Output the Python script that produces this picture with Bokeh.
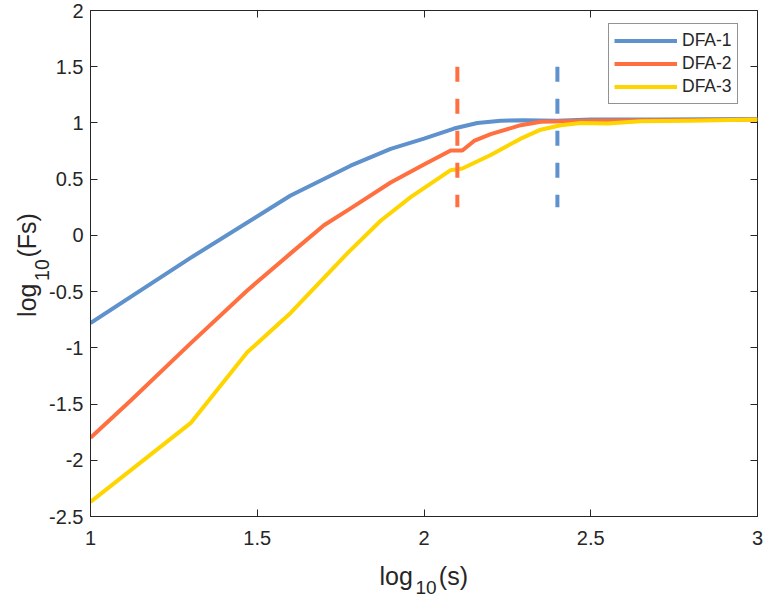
import math
from bokeh.plotting import figure
from bokeh.models import (Range1d, FixedTicker, LinearAxis, Label, Legend,
                          LegendItem, CustomJSTickFormatter)
from bokeh.embed import file_html
from bokeh.resources import INLINE

# ---- data ----
dfa1_x = [1.0, 1.3, 1.6, 1.78, 1.9, 2.0, 2.09, 2.16, 2.23, 2.3, 2.4, 2.5, 2.7, 3.0]
dfa1_y = [-0.78, -0.2, 0.355, 0.62, 0.77, 0.86, 0.95, 1.0, 1.02, 1.025, 1.02, 1.03, 1.03, 1.035]

dfa2_x = [1.0, 1.12, 1.3, 1.47, 1.6, 1.7, 1.78, 1.9, 2.0, 2.08, 2.115, 2.15, 2.2, 2.29, 2.35, 2.5, 3.0]
dfa2_y = [-1.8, -1.47, -0.96, -0.49, -0.16, 0.09, 0.24, 0.47, 0.63, 0.755, 0.755, 0.84, 0.9, 0.98, 1.01, 1.02, 1.03]

dfa3_x = [1.0, 1.3, 1.47, 1.6, 1.77, 1.87, 1.96, 2.02, 2.08, 2.115, 2.2, 2.29, 2.35, 2.41, 2.47, 2.55, 2.65, 2.8, 3.0]
dfa3_y = [-2.37, -1.67, -1.04, -0.69, -0.16, 0.13, 0.34, 0.46, 0.58, 0.595, 0.715, 0.86, 0.94, 0.98, 1.0, 0.995, 1.015, 1.02, 1.03]

cut_x = [2.1, 2.4]
cut_y0 = [1.5, 1.5]
cut_y1 = [0.25, 0.25]

series_names = ["DFA-1", "DFA-2", "DFA-3"]
x_ticks = [1, 1.5, 2, 2.5, 3]
y_ticks = [-2.5, -2, -1.5, -1, -0.5, 0, 0.5, 1, 1.5, 2]

# ---- styles / layout ----
C_BLUE = "#5F91CC"
C_ORANGE = "#FF6F3F"
C_YELLOW = "#FFD500"
AX = "#262626"
FONT = "Liberation Sans"

LEFT = 400          # wide left panel holding the axis titles (unclipped there)
SHIFT = LEFT - 90   # pulled back so that the frame starts 90px from the page edge

p = figure(width=765 - 90 + LEFT, height=595, x_range=Range1d(1, 3), y_range=Range1d(-2.5, 2),
           output_backend="svg", toolbar_location=None,
           min_border_left=LEFT, min_border_right=8, min_border_top=10, min_border_bottom=79)
p.styles = {"margin-left": f"-{SHIFT}px"}
p.xgrid.visible = False
p.ygrid.visible = False
p.outline_line_color = AX
p.outline_line_width = 1
p.outline_line_alpha = 1
p.background_fill_color = "white"
p.border_fill_color = "white"

fmt = CustomJSTickFormatter(code="return tick.toString();")
blank = CustomJSTickFormatter(code="return '';")

def style_axis(ax, ticks, labels=True, standoff=7):
    ax.ticker = FixedTicker(ticks=ticks, minor_ticks=[])
    ax.major_tick_in = 7
    ax.major_tick_out = 0
    ax.minor_tick_in = 0
    ax.minor_tick_out = 0
    ax.major_tick_line_color = AX
    ax.major_tick_line_width = 1
    ax.axis_line_color = AX
    ax.axis_label = None
    if labels:
        ax.formatter = fmt
        ax.major_label_text_font = FONT
        ax.major_label_text_font_size = "20px"
        ax.major_label_text_color = AX
        ax.major_label_standoff = standoff
    else:
        ax.formatter = blank
        ax.major_label_standoff = 0
        ax.axis_line_color = None

style_axis(p.xaxis[0], x_ticks, True, 14)
style_axis(p.yaxis[0], y_ticks, True, 7)

top_ax = LinearAxis()
right_ax = LinearAxis()
style_axis(top_ax, x_ticks, False)
style_axis(right_ax, y_ticks, False)
p.add_layout(top_ax, "above")
p.add_layout(right_ax, "right")

r1 = p.line(dfa1_x, dfa1_y, line_color=C_BLUE, line_width=4, line_join="round")
r2 = p.line(dfa2_x, dfa2_y, line_color=C_ORANGE, line_width=4, line_join="round")
r3 = p.line(dfa3_x, dfa3_y, line_color=C_YELLOW, line_width=4, line_join="round")

p.segment(x0=cut_x, y0=cut_y0, x1=cut_x, y1=cut_y1,
          line_color=[C_ORANGE, C_BLUE], line_width=4, line_dash="15 17")

legend = Legend(items=[LegendItem(label=series_names[0], renderers=[r1]),
                       LegendItem(label=series_names[1], renderers=[r2]),
                       LegendItem(label=series_names[2], renderers=[r3])],
                location=(518, 412))
legend.label_text_font = FONT
legend.label_text_font_size = "17.5px"
legend.label_text_color = AX
legend.glyph_width = 63
legend.glyph_height = 23
legend.label_height = 23
legend.label_standoff = 5
legend.padding = 5
legend.spacing = 0
legend.margin = 0
legend.border_line_color = AX
legend.border_line_width = 1
legend.background_fill_color = "white"
legend.background_fill_alpha = 1
p.add_layout(legend)

# ---- axis titles with subscripts ----
def lab(x, y, text, size, xo, yo, angle=0.0):
    l = Label(x=x, y=y, text=text, x_offset=xo, y_offset=yo, angle=angle,
              text_font=FONT, text_font_size=size, text_color=AX,
              text_align="left", text_baseline="alphabetic")
    p.add_layout(l, "left")

# x title: log10(s)
lab(2, -2.5, "log", "25px", -44.5, -59.5)
lab(2, -2.5, "10", "19px", -8.5, -71)
lab(2, -2.5, "(s)", "25px", 14.8, -59.5)

# y title: log10(Fs)
A = math.pi / 2
lab(1, 0, "log", "25px", -64, -81.5, A)
lab(1, 0, "10", "19.5px", -49, -45.5, A)
lab(1, 0, "(Fs)", "25px", -64, -22.2, A)

open("out.html", "w").write(file_html(p, INLINE))
